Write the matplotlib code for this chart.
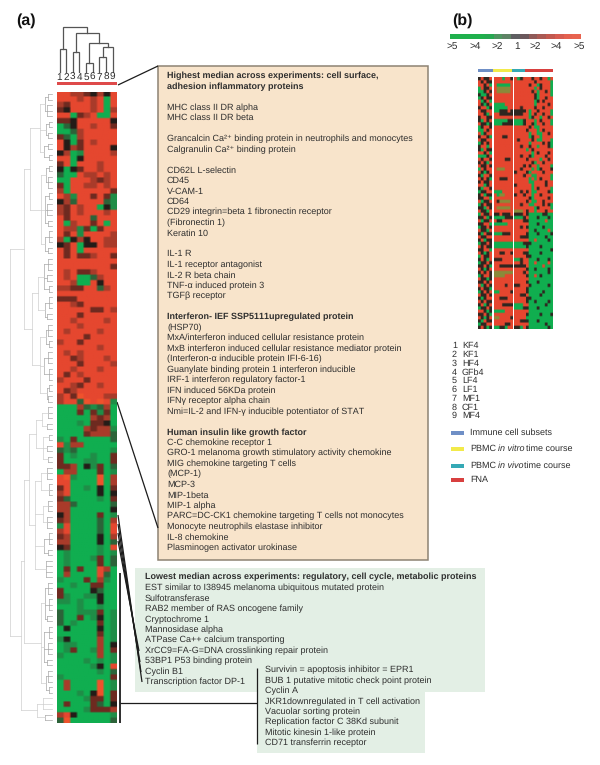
import matplotlib
matplotlib.use("Agg")
import matplotlib.pyplot as plt
import numpy as np
from matplotlib.colors import to_rgb
from matplotlib.patches import Polygon, Rectangle

plt.rcParams['font.family'] = ['Liberation Sans', 'DejaVu Sans']
plt.rcParams['text.hinting'] = 'no_hinting'
plt.rcParams['text.hinting_factor'] = 1

W, H = 600, 765
TXT = '#2e2e2e'

# ---------- data: panel (a) expression levels (0 green ... 3 black ... 7 bright red)
heat_a = """
665543536 666565606 546665606 436665605 660456006 443666663 023665664 002566666
420566666 630465666 635466663 350166665 660366666 460666566 303466566 200655656
006665456 406655656 506666664 651664641 352666621 546566031 546566656 646662666
605664606 655140466 646166665 503536655 346033655 646066666 646445664 666666666
666666664 656445666 656002566 665006366 554466256 666666666 444666666 665466666
666664465 666466666 665666656 666566666 656666566 666646666 566466666 666666566
656566666 664566656 666466665 665666566 646566666 566646666 665466566 645666666
564766655 566276761 000521250 000404140 000005450 000104430 000054551 000045552
104000002 615500000 212000001 401001004 400011004 445031402 055000401 671000705
660000705 460010304 560000303 420000104 552000002 550000003 350000401 450000205
160000206 560000206 450000305 550000302 340000106 010000101 010001402 010000402
040400650 050000620 100040510 001004400 400003200 410011300 110100300 000100100
200111401 200401301 201000401 030000301 000000401 130000501 011000503 014001504
100000501 000010101 000001306 000000102 100000004 050000701 050000701 000103704
000014404 040004203 000014445 563000001 270000002
""".split()

# ---------- data: panel (b), 4 experiment groups in each row
# r red, k dark, g green, o olive
heat_b = """
krkkr|rrrgrrk|rgkr|rrkrrkrrgr rkrkk|rrrrrrr|rrrr|rrrkrrrrrg rrkrg|rgggggr|rrrr|rkrrgkrrrg
grkkr|rooooor|rrrr|rrrgrkrrrg ggkrk|rooooor|rrrr|rrkrgrrkrg kggkr|rrrrrrr|rrrr|rrrkgrrrrg
gkrkk|rrrrrrr|rrrr|rrrkgrrkrr rgkrg|rrrrrrr|rrrr|rrrgkrkrrr rkgkr|ggggrrr|rrrr|rrrgrrrrkr
krrgk|gggggrr|rrkr|rrrkrrkrrr rkkrr|ggkkkrk|kkkk|rgrrkrrrrg rrkgr|rrkkkkk|kkkr|rgrkrrkrrg
krrkk|rrrrrrr|rrrr|rgkrrgrrkr kgrkr|gggggkk|gggk|rrrgrkrrrg rkkgk|gggkkkk|gggk|rrkgrrkrrg
gkrrk|rrrrrrr|rrrr|rkrggrrrrr ggrkr|rrrrrrr|rrrr|krrrgrkrrr rgkrr|rrrrrrr|rrrr|rgrrggrrkr
krrkg|rrrkkrr|rrrr|rgkrrgrrrr rkkrr|rrrrrrr|rkrr|rrkrggrrrg gkrkr|rrrrrrr|rrrr|rgrrrrkrkg
krrgr|rrrrrrr|rrkr|rkrrgrrrkg kgrkk|rrrrrrr|rrrr|grkrrrrrrr rrkrg|rrrrrrr|rrrr|rrgrkrrrkr
gggkr|rrrrrrr|rrkr|rkgrrrrkrr rkrrk|rrrrkkr|rrrr|krrrrgrrkr krkgr|rrrrrrr|rrrr|rrkgrrkrrr
rkkrk|rrrrrrr|rrrk|rkrrgrrrrg grkrr|rooorrr|rrkr|rrgrgkrrrk rkgkr|rrrrrrr|krrr|kgrrrrkrrr
kgrrk|rrrrrrr|rrrk|rrggrrrrrg rkrkg|rrkkkrr|rrrr|rgrgrkrrrg krkkr|rrrrrrr|rrrr|rggrrrrkrr
rrgkr|rrrrrrr|krrr|rrgrrrrkrr kgrrk|rrrrrrr|rrrr|rrgrkrrrrg gkkrr|gggrrrr|rrkr|krggrrrrkg
krgkk|rgoorrr|krrk|rrgrrkrrrr kkrrg|rrrrrrr|rrrr|rkgrrrrrkr rgkkr|rkoooor|rrrr|krggrrkrrr
gkrkk|rrrrrrr|rrkr|rggrrrkrkg kkgrk|rooooor|rrrr|rrrgkrrrrg rkkgr|rrrrrrr|ooor|krrgrrrkrr
grkkr|kkrkkkr|kkkr|kgggggkkgg kkrgk|ggggkkk|gggk|rgggkgggkg rgkkr|rkkrrrr|rrrk|kggggggrgg
kkrrg|gggggrr|rrrr|rgggkggggg gkkrk|rrrrrrr|rrkr|kgggggkggg rkkgr|rrrrrrr|rrrr|rggkggggrg
kgrkk|gggkkkr|rrrr|kgggkggggk rkkrr|rrrrrrr|rrkk|kggggggkgg krgkk|rrrrrrr|rrrr|rggrggggkg
gkkrk|ggggggg|gggk|kkgggggggg rkrkk|ggggggg|gggg|kggggkgggg kkrrg|rrrrrrr|rrrr|rggggggggk
rkgkr|rrkkrrk|rrrk|kggggkgggg grkkr|rrrrrrr|rrrr|kkgggggggg krkgr|kkkrrrr|ggkr|rgggkgggkg
gkkrk|rrrrrrr|rrkr|rggrggggrg kkrkg|rrkkkkk|kkkk|rgggggrggg rkgkr|rrrrrrr|rrrr|kggkggggkg
krkrk|ooooooo|rrrk|rgggggggkg gkrrk|oooorrr|rrrr|kggrgkgggg rkkgk|rrrrrrr|rrrr|rggggggggg
kkrkr|rrrrrrr|rrrr|kgggkggggg rgkrk|rrrrkrr|kkrr|rkggggggkg krkkg|rrrrrrr|rrrr|kggggggggg
gkrkr|ggrrrrk|rrrr|kgggggkggg rkkrk|rrrrrrr|rrkk|rggggkgggg kgkrr|rrkkkrr|rrrr|kkgggggggg
rkrkk|rrrrrrr|rrrr|kggkggggkg krgkr|rrrkkkk|gggr|rggggggkgg gkkrk|rrrrrrr|gggk|kgggkggggg
rrkgk|ggggrrr|rrrr|rggggggggg kkrkg|rrrrrrr|rrrr|kggggkgggk rkgkr|oorrrrk|rrrr|gggggggggg
kgrkk|rrrrrrr|rrkk|kgggkggggg gkkrr|rrrrkkr|rrrr|rggggggkgg krkgk|ggkkgrr|kkgr|kgggggggkg
""".split()

dend_leaves = ['1', '2', '3', '4', '5', '6', '7', '8', '9']
scale_colors = ['#1fb04c', '#1fb04c', '#1fb04c', '#1fb04c', '#26a851', '#4e9560', '#5e8365', '#5f5f62',
                '#6a585c', '#8f5a58', '#aa5a54', '#c2594f', '#d65c50', '#e4614f', '#e8634f']
scale_labels = ['>5', '>4', '>2', '1', '>2', '>4', '>5']
scale_label_x = [452, 475, 497, 517, 535, 556, 579]

box_a_lines = [
    ("b", "Highest median across experiments: cell surface,"),
    ("b", "adhesion inflammatory proteins"), ("n", ""),
    ("n", "MHC class II DR alpha"), ("n", "MHC class II DR beta"), ("n", ""),
    ("n", "Grancalcin Ca²⁺ binding protein in neutrophils and monocytes"),
    ("n", "Calgranulin Ca²⁺ binding protein"), ("n", ""),
    ("n", "CD62L L-selectin"), ("n", "CD45"), ("n", "V-CAM-1"), ("n", "CD64"),
    ("n", "CD29 integrin=beta 1 fibronectin receptor"), ("n", "(Fibronectin 1)"),
    ("n", "Keratin 10"), ("n", ""),
    ("n", "IL-1 R"), ("n", "IL-1 receptor antagonist"), ("n", "IL-2 R beta chain"),
    ("n", "TNF-α induced protein 3"), ("n", "TGFβ receptor"), ("n", ""),
    ("b", "Interferon- IEF SSP5111upregulated protein"), ("n", "(HSP70)"),
    ("n", "MxA/interferon induced cellular resistance protein"),
    ("n", "MxB interferon induced cellular resistance mediator protein"),
    ("n", "(Interferon-α inducible protein IFI-6-16)"),
    ("n", "Guanylate binding protein 1 interferon inducible"),
    ("n", "IRF-1 interferon regulatory factor-1"),
    ("n", "IFN induced 56KDa protein"), ("n", "IFNγ receptor alpha chain"),
    ("n", "Nmi=IL-2 and IFN-γ inducible potentiator of STAT"), ("n", ""),
    ("b", "Human insulin like growth factor"), ("n", "C-C chemokine receptor 1"),
    ("n", "GRO-1 melanoma growth stimulatory activity chemokine"),
    ("n", "MIG chemokine targeting T cells"), ("n", "(MCP-1)"), ("n", "MCP-3"),
    ("n", "MIP-1beta"), ("n", "MIP-1 alpha"),
    ("n", "PARC=DC-CK1 chemokine targeting T cells not monocytes"),
    ("n", "Monocyte neutrophils elastase inhibitor"), ("n", "IL-8 chemokine"),
    ("n", "Plasminogen activator urokinase"),
]
box_low_lines = [
    "EST similar to I38945 melanoma ubiquitous mutated protein", "Sulfotransferase",
    "RAB2 member of RAS oncogene family", "Cryptochrome 1", "Mannosidase alpha",
    "ATPase Ca++ calcium transporting", "XrCC9=FA-G=DNA crosslinking repair protein",
    "53BP1 P53 binding protein", "Cyclin B1", "Transcription factor DP-1",
]
box_sub_lines = [
    "Survivin = apoptosis inhibitor = EPR1", "BUB 1 putative mitotic check point protein",
    "Cyclin A", "JKR1downregulated in T cell activation", "Vacuolar sorting protein",
    "Replication factor C 38Kd subunit", "Mitotic kinesin 1-like protein", "CD71 transferrin receptor",
]
sample_ids = ['1', '2', '3', '4', '5', '6', '7', '8', '9']
sample_names = ['KF4', 'KF1', 'HF4', 'GFb4', 'LF4', 'LF1', 'MF1', 'CF1', 'MF4']
# each legend label in pieces: (text, italic, x position)
group_labels = [
    [('Immune cell subsets', False, 470)],
    [('PBMC', False, 470), ('in vitro', True, 498), ('time course', False, 525.5)],
    [('PBMC', False, 470), ('in vivo', True, 498), ('time course', False, 524.5)],
    [('FNA', False, 470)],
]
group_colors = ['#6f8fc6', '#f2ea4a', '#35a9b5', '#d8403f']

# column dendrogram: (merge height in px position, left, right)
col_tree = (27, (49, 1, 2), (33, (52, 3, 4), (43, (63, 5, 6), (47, (57, 7, 8), 9))))
# row dendrogram: (x of node, children...); an int child = that many leaves
row_tree = (10,
    (24,
        (30,
            (40, (45, (48, 2), (47, 3)), (46, (49, 2), (48, 2)), (44, (48, 2), (49, 2))),
            (41, (46, (49, 2), (48, 3)), (45, (49, 2), (47, 3), (48, 2)), (45, (49, 3), (48, 2)))),
        (32,
            (38, (44, (48, 3), (47, 2), (49, 2)), (45, (49, 3), (47, 2))),
            (40, (46, (48, 3), (49, 2)), (44, (48, 3), (49, 3)), (47, (49, 2), (48, 2))))),
    (21,
        (24,
            (29,
                (36, (42, (48, 3), (47, 2)), (43, (49, 2), (47, 2), (48, 2))),
                (35, (41, (47, 3), (49, 3)), (43, (48, 3), (47, 3)), (44, (49, 3), (48, 2)), (46, 4))),
            (41, (45, (48, 3), (49, 3), (47, 2)), (44, (49, 3), (48, 3), (47, 2)), (46, (48, 3), (49, 2)))),
        (37, (43, 3), (45, 2))))

level_colors = ['#10ae50', '#1f8d47', '#2c6339', '#241c18', '#6e2a20', '#a93b2a', '#e5472f', '#ef522c']
b_colors = {'g': '#10ae4f', 'o': '#8a8a3a', 'k': '#2f2620', 'r': '#e5462f'}

# ---------- layout
fig = plt.figure(figsize=(W / 100, H / 100), dpi=100, facecolor='white')


def ax_px(x0, y0, x1, y1):
    ax = fig.add_axes([x0 / W, 1 - y1 / H, (x1 - x0) / W, (y1 - y0) / H])
    ax.set_axis_off()
    return ax


def soft_show(ax, rgb, k):
    """Show a cell image with slightly softened edges, like the printed figure."""
    big = np.repeat(np.repeat(rgb, k, axis=0), k, axis=1)
    ax.imshow(big, aspect='auto', interpolation='bilinear')


page = ax_px(0, 0, W, H)
page.set_xlim(0, W)
page.set_ylim(H, 0)
page.set_zorder(0)

# boxes
page.add_patch(Polygon([(135, 568), (485, 568), (485, 692), (425, 692), (425, 753), (257, 753), (257, 692), (135, 692)],
                       closed=True, fc='#e3efe5', ec='none', zorder=1))
page.add_patch(Rectangle((158, 66), 270, 494, fc='#f8e4cb', ec='#8d8373', lw=1.1, zorder=2))

# panel (a) heatmap
A = np.array([[to_rgb(level_colors[int(c)]) for c in row] for row in heat_a])
soft_show(ax_px(57, 91.5, 117, 723), A, 3)

# panel (b) heatmap
rows_b = [row.split('|') for row in heat_b]
b_extent = [(478.3, 492.2), (493.5, 512.2), (513.5, 525), (526.2, 553)]
for i, (x0, x1) in enumerate(b_extent):
    B = np.array([[to_rgb(b_colors[c]) for c in r[i]] for r in rows_b])
    soft_show(ax_px(x0, 77, x1, 329), B, 2)

# colour scale
ax_s = ax_px(450, 33.5, 581, 39.5)
ax_s.imshow(np.array([[to_rgb(c) for c in scale_colors]]), aspect='auto', interpolation='nearest')
for lab, x in zip(scale_labels, scale_label_x):
    page.text(x, 46, lab, ha='center', va='center', fontsize=7.0, color=TXT, zorder=5)

# coloured bars
page.add_patch(Rectangle((57, 82), 60, 3.2, fc='#de4a4a', ec='none'))
bar_extent = [(478.3, 493), (493, 512), (512, 525), (525, 553)]
for (x0, x1), c in zip(bar_extent, group_colors):
    page.add_patch(Rectangle((x0, 69.3), x1 - x0, 2.6, fc=c, ec='none'))


# column dendrogram
def draw_col(node):
    if isinstance(node, int):
        return 59.5 + (node - 1) * 6.65, 72
    h, l, r = node
    xl, yl = draw_col(l)
    xr, yr = draw_col(r)
    page.plot([xl, xl, xr, xr], [yl, h, h, yr], color='#555555', lw=0.9,
              solid_joinstyle='miter', zorder=3)
    return (xl + xr) / 2, h


draw_col(col_tree)
for lab, x in zip(dend_leaves, np.arange(9)):
    page.text(59.5 + x * 6.65, 77, lab, ha='center', va='center', fontsize=7.2, color=TXT, zorder=5)

# row dendrogram
leaf_counter = [0]


def draw_row(node):
    x = node[0]
    ys, xs = [], []
    for ch in node[1:]:
        if isinstance(ch, int):
            for _ in range(ch):
                ys.append(91.5 + 5.49 * (leaf_counter[0] + 0.5))
                xs.append(52)
                leaf_counter[0] += 1
        else:
            cx, cy = draw_row(ch)
            xs.append(cx)
            ys.append(cy)
    col = '#cfcfcf' if x < 44 else '#a8a8a8'
    page.plot([x, x], [min(ys), max(ys)], color=col, lw=0.5, zorder=3)
    for cx, cy in zip(xs, ys):
        page.plot([x, cx], [cy, cy], color=col, lw=0.5, zorder=3)
    return x, (min(ys) + max(ys)) / 2


draw_row(row_tree)

# connectors
for xs, ys, lw in [
    ([118, 158], [85, 66], 0.9),
    ([117, 158], [402, 528], 0.9),
    ([118, 142], [515, 682], 0.9),
    ([118, 141], [524, 672], 0.9),
    ([118, 140], [533, 662], 0.9),
    ([118, 139], [541, 651], 0.9),
    ([120, 120], [573, 723], 1.3),
    ([120, 256.5], [703, 703], 0.9),
    ([256.5, 256.5], [668, 744], 0.9),
]:
    page.plot(xs, ys, color='#1c1c1c', lw=lw, zorder=4, solid_capstyle='butt')

# texts
FS = 6.5
page.text(16, 21, '(a)', fontsize=11.5, fontweight='bold', va='center', color='#111111', zorder=5)
page.text(452, 21, '(b)', fontsize=11.5, fontweight='bold', va='center', color='#111111', zorder=5)
for i, (kind, line) in enumerate(box_a_lines):
    if line:
        page.text(167, 76 + i * 10.48, line, fontsize=FS, va='center', color=TXT, zorder=5,
                  fontweight='bold' if kind == 'b' else 'normal')
page.text(145, 577, 'Lowest median across experiments: regulatory, cell cycle, metabolic proteins',
          fontsize=FS, fontweight='bold', va='center', color=TXT, zorder=5)
for i, line in enumerate(box_low_lines):
    page.text(145, 588 + i * 10.45, line, fontsize=FS, va='center', color=TXT, zorder=5)
for i, line in enumerate(box_sub_lines):
    page.text(265, 670 + i * 10.45, line, fontsize=FS, va='center', color=TXT, zorder=5)

# sample legend
for i, (n, name) in enumerate(zip(sample_ids, sample_names)):
    y = 346 + i * 8.75
    page.text(452, y, n, fontsize=6.8, va='center', color=TXT, zorder=5)
    page.text(462, y, name, fontsize=6.8, va='center', color=TXT, zorder=5)
for y, pieces, c in zip([433, 449, 466, 480], group_labels, group_colors):
    page.add_patch(Rectangle((451, y - 1.7), 13, 3.4, fc=c, ec='none'))
    for text, italic, x in pieces:
        page.text(x, y - 0.5, text, fontsize=6.6, va='center', color=TXT, zorder=5,
                  fontstyle='italic' if italic else 'normal')

fig.savefig('out.png', dpi=100, facecolor='white')
